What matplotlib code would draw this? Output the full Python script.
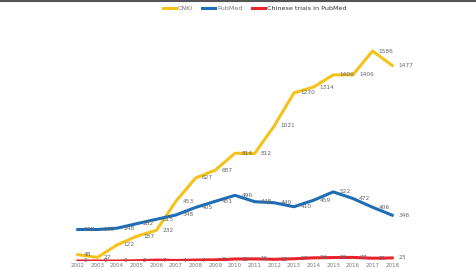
import numpy as np
import matplotlib.pyplot as plt
from matplotlib.lines import Line2D

years = [str(y) for y in range(2002, 2019)]
cnki = [48, 27, 122, 187, 232, 453, 627, 687, 814, 812, 1021, 1270, 1314, 1406, 1406, 1586, 1477]
pubmed = [238, 238, 248, 282, 315, 348, 405, 451, 496, 448, 440, 410, 459, 522, 472, 406, 346]
chinese = [0, 0, 0, 2, 7, 4, 7, 9, 15, 16, 13, 17, 24, 26, 27, 21, 23]

series = [('CNKI', cnki, '#F4C21B'),
          ('PubMed', pubmed, '#1F6DB4'),
          ('Chinese trials in PubMed', chinese, '#E8232B')]

fig = plt.figure(figsize=(4.76, 2.69), dpi=100)
ax = fig.add_axes([68 / 476, 8 / 269, (402 - 68) / 476, (261 - 22.7) / 269])

x = np.arange(len(years))
for name, vals, col in series:
    ax.plot(x, vals, color=col, lw=2.2, label=name, solid_joinstyle='round')
    for xi, v in zip(x, vals):
        ax.annotate(str(v), (xi, v), xytext=(4.5, 0), textcoords='offset points',
                    ha='left', va='center', fontsize=4.2, color='#666666')

ax.set_xlim(-0.5, len(years) - 0.5)
ax.set_ylim(0, 1800)
ax.set_xticks(x)
ax.set_xticklabels(years, fontsize=4.0, color='#777777')
ax.tick_params(axis='x', length=0, pad=1.2)
ax.set_yticks([])
for s in ax.spines.values():
    s.set_visible(False)

leg = fig.legend(loc='upper center', bbox_to_anchor=(0.535, 1.0), ncol=3, frameon=False,
                 fontsize=4.6, handlelength=2.1, handletextpad=0.3, columnspacing=1.4,
                 labelcolor='#777777')
for t in leg.get_texts():
    if t.get_text().startswith('Chinese'):
        t.set_color('#333333')

# dark border at the top of the screenshot
fig.add_artist(Line2D([0, 1], [0.997, 0.997], transform=fig.transFigure, color='#555555', lw=1.5))

fig.savefig('out.png', dpi=100)
